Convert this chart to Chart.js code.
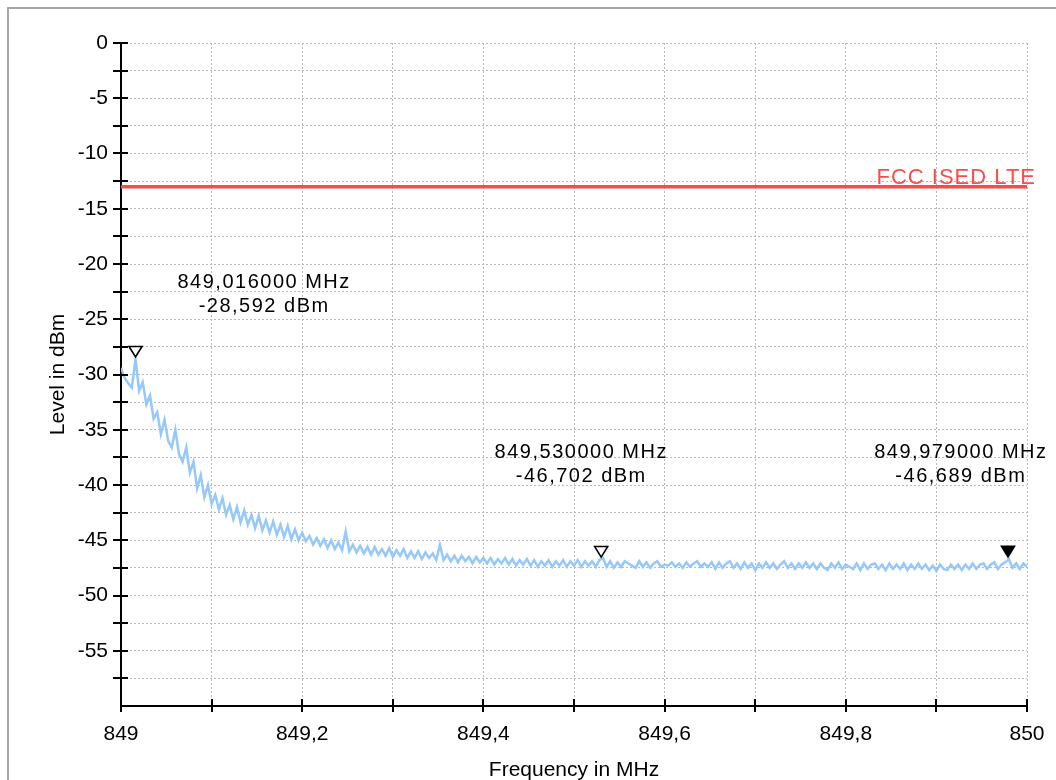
<!DOCTYPE html>
<html><head><meta charset="utf-8">
<script src="https://cdn.jsdelivr.net/npm/chart.js@4.4.1/dist/chart.umd.min.js"></script>
<style>html,body{margin:0;padding:0;background:#fff;overflow:hidden}canvas{display:block}</style>
</head><body>
<canvas id="c" width="1056" height="780"></canvas>
<script>
// ---- data ----
const freqStartMHz = 849;
const freqStepMHz = 0.004;
const levelDbm = [
  -29.4, -30.3, -30.8, -31.2, -28.6, -31.5, -30.7, -32.7, -31.9, -34.0,
  -33.4, -35.4, -34.1, -36.0, -36.6, -35.0, -37.2, -37.9, -36.6, -38.9,
  -37.9, -40.3, -39.1, -41.1, -40.0, -41.7, -40.9, -42.2, -41.2, -42.7,
  -41.8, -43.1, -42.0, -43.4, -42.3, -43.6, -42.7, -43.9, -42.8, -44.1,
  -43.2, -44.3, -43.3, -44.5, -43.6, -44.7, -43.7, -44.9, -44.0, -45.0,
  -44.3, -45.1, -44.6, -45.4, -44.8, -45.5, -44.9, -45.7, -45.0, -45.8,
  -45.2, -45.9, -44.2, -46.0, -45.4, -46.1, -45.5, -46.2, -45.6, -46.3,
  -45.6, -46.3, -45.8, -46.4, -45.7, -46.5, -45.9, -46.4, -45.8, -46.6,
  -46.0, -46.6, -46.0, -46.7, -46.1, -46.6, -46.2, -46.8, -45.4, -46.8,
  -46.3, -46.9, -46.4, -47.0, -46.4, -46.9, -46.5, -47.1, -46.5, -47.0,
  -46.6, -47.1, -46.6, -47.2, -46.7, -47.1, -46.6, -47.2, -46.7, -47.3,
  -46.8, -47.2, -46.7, -47.3, -46.8, -47.4, -46.9, -47.3, -46.8, -47.4,
  -46.9, -47.3, -46.8, -47.4, -46.9, -47.3, -46.8, -47.4, -46.9, -47.3,
  -46.9, -47.4, -46.8, -46.6, -47.4, -46.9, -47.5, -47.0, -47.4, -46.9,
  -47.1, -47.3, -47.5, -46.9, -47.4, -47.0, -47.5, -47.1, -46.9, -47.4,
  -47.2, -47.3, -47.0, -47.4, -47.1, -47.5, -47.0, -47.4, -47.1, -46.9,
  -47.4, -47.1, -47.4, -47.0, -47.6, -47.0, -47.5, -47.1, -46.9, -47.5,
  -47.1, -47.6, -47.0, -47.5, -47.1, -47.7, -47.1, -47.5, -47.0, -47.5,
  -47.1, -47.6, -47.2, -46.9, -47.5, -47.1, -47.6, -47.1, -47.5, -47.0,
  -47.5, -47.1, -47.6, -47.1, -47.5, -47.7, -47.1, -47.5, -47.0, -47.6,
  -47.2, -47.4, -47.6, -47.1, -47.7, -47.1, -47.6, -47.2, -47.1, -47.6,
  -47.2, -47.7, -47.1, -47.6, -47.2, -47.6, -47.1, -47.7, -47.2, -47.6,
  -47.1, -47.6, -47.2, -47.7, -47.3, -47.8, -47.2, -47.6, -47.7, -47.2,
  -47.6, -47.2, -47.7, -47.2, -47.6, -47.1, -47.6, -47.2, -47.1, -47.6,
  -47.2, -47.0, -47.6, -47.2, -47.0, -46.7, -47.5, -47.1, -47.6, -47.1,
  -47.4
];
const markerFreqMHz = [849.016, 849.530, 849.979];
const markerLevelDbm = [-28.592, -46.702, -46.689];
const markerFilled = [false, false, true];
const markerTextLines = [
  ["849,016000 MHz", "-28,592 dBm"],
  ["849,530000 MHz", "-46,702 dBm"],
  ["849,979000 MHz", "-46,689 dBm"]
];
const limitName = "FCC ISED LTE";
const limitLevelDbm = -13;
const freqRangeMHz = [849, 850];
const levelRangeDbm = [-60, 0];
const xTitle = "Frequency in MHz";
const yTitle = "Level in dBm";

// ---- build chart ----
const tracePoints = levelDbm.map((v, i) => ({ x: +(freqStartMHz + i * freqStepMHz).toFixed(3), y: v }));
const limitPoints = freqRangeMHz.map(f => ({ x: f, y: limitLevelDbm }));

const FONT = '"Liberation Sans", Arial, sans-serif';

const decor = {
  id: 'decor',
  beforeDraw(chart) {
    const ctx = chart.ctx;
    ctx.save();
    ctx.strokeStyle = '#a6a6a6';
    ctx.lineWidth = 2;
    ctx.strokeRect(8, 8, 1200, 1000);
    ctx.restore();
  },
  afterDraw(chart) {
    const ctx = chart.ctx;
    const xs = chart.scales.x, ys = chart.scales.y;
    const ca = chart.chartArea;
    ctx.save();
    // crossing tick marks
    ctx.strokeStyle = '#000';
    ctx.lineWidth = 2;
    ctx.beginPath();
    ys.ticks.forEach(t => {
      if (t.value <= levelRangeDbm[0]) return;
      const py = Math.round(ys.getPixelForValue(t.value));
      ctx.moveTo(ca.left - 8, py); ctx.lineTo(ca.left + 7, py);
    });
    xs.ticks.forEach(t => {
      const px = Math.round(xs.getPixelForValue(t.value));
      ctx.moveTo(px, ca.bottom - 7); ctx.lineTo(px, ca.bottom + 6);
    });
    ctx.stroke();

    // limit label
    ctx.fillStyle = '#ff4a4a';
    ctx.font = '22px ' + FONT;
    ctx.letterSpacing = '1px';
    ctx.textAlign = 'right';
    ctx.textBaseline = 'alphabetic';
    ctx.fillText(limitName, ca.right + 9, ys.getPixelForValue(limitLevelDbm) - 3);

    // markers
    markerFreqMHz.forEach((f, i) => {
      const px = xs.getPixelForValue(f);
      const py = ys.getPixelForValue(markerLevelDbm[i]);
      ctx.beginPath();
      ctx.moveTo(px, py - 2);
      ctx.lineTo(px - 6.5, py - 12.5);
      ctx.lineTo(px + 6.5, py - 12.5);
      ctx.closePath();
      ctx.fillStyle = markerFilled[i] ? '#000' : '#fff';
      ctx.fill();
      ctx.strokeStyle = '#000';
      ctx.lineWidth = 1.6;
      ctx.stroke();
    });

    // marker readouts
    const anchors = chart.options.plugins.decor.labelAnchors;
    ctx.fillStyle = '#000';
    ctx.font = '20px ' + FONT;
    ctx.letterSpacing = '1.5px';
    ctx.textAlign = 'center';
    ctx.textBaseline = 'middle';
    markerTextLines.forEach((lines, i) => {
      const cx = xs.getPixelForValue(anchors[i][0]);
      const cy = ys.getPixelForValue(anchors[i][1]);
      ctx.fillText(lines[0], cx, cy - 12);
      ctx.fillText(lines[1], cx, cy + 12);
    });
    ctx.restore();
  }
};

new Chart(document.getElementById('c'), {
  type: 'line',
  data: {
    datasets: [
      { label: 'Trace', data: tracePoints, borderColor: '#96c8fa', borderWidth: 2.5, pointRadius: 0, tension: 0, fill: false },
      { label: limitName, data: limitPoints, borderColor: '#ff4848', borderWidth: 3.5, pointRadius: 0, fill: false }
    ]
  },
  options: {
    responsive: false,
    animation: false,
    parsing: false,
    layout: { padding: { left: 0, top: 43, right: 29, bottom: 0 } },
    plugins: {
      legend: { display: false },
      tooltip: { enabled: false },
      decor: { labelAnchors: [[849.158, -22.8], [849.508, -38.1], [849.927, -38.1]] }
    },
    scales: {
      x: {
        type: 'linear', min: freqRangeMHz[0], max: freqRangeMHz[1],
        afterFit(s) { s.height = 74; s.paddingLeft = 0; s.paddingRight = 0; },
        grid: { color: '#b8b8b8', lineWidth: 1, drawTicks: false },
        border: { display: true, color: '#000', width: 2, dash: [2, 2] },
        ticks: {
          stepSize: 0.1, autoSkip: false, maxRotation: 0, padding: 16, color: '#000',
          font: { family: FONT, size: 21 },
          callback(v) {
            const k = Math.round((v - freqRangeMHz[0]) * 10);
            if (k % 2) return '';
            const val = freqRangeMHz[0] + k / 10;
            return k % 10 === 0 ? String(val) : val.toFixed(1).replace('.', ',');
          }
        },
        title: { display: true, text: xTitle, color: '#000', font: { family: FONT, size: 21, lineHeight: 0.9 }, padding: { top: 0, bottom: 0 } }
      },
      y: {
        type: 'linear', min: levelRangeDbm[0], max: levelRangeDbm[1],
        afterFit(s) { s.width = 121; s.paddingTop = 0; s.paddingBottom = 0; },
        grid: { color: '#b8b8b8', lineWidth: 1, drawTicks: false },
        border: { display: true, color: '#000', width: 2, dash: [2, 2] },
        ticks: {
          stepSize: 2.5, autoSkip: false, padding: 13, color: '#000',
          font: { family: FONT, size: 21 },
          callback(v) {
            const r = Math.round(v * 2) / 2;
            if (r % 5 !== 0 || r <= levelRangeDbm[0]) return '';
            return String(r === 0 ? 0 : r);
          }
        },
        title: { display: true, text: yTitle, color: '#000', font: { family: FONT, size: 21, lineHeight: 1.2 }, padding: { top: 46, bottom: 0 } }
      }
    }
  },
  plugins: [decor]
});
</script>
</body></html>
